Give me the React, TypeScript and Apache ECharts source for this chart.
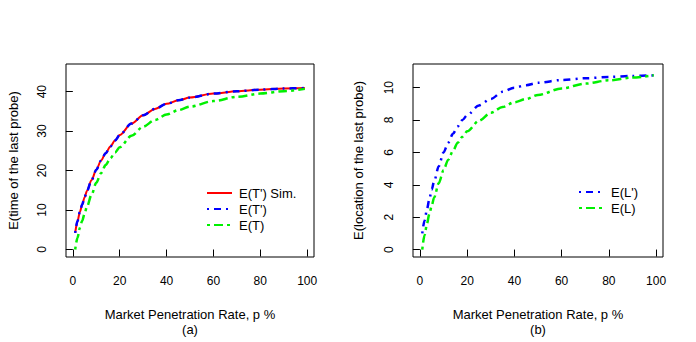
import React, { useEffect, useRef } from "react";
import * as echarts from "echarts";

// Market penetration rate p (%)
const penetration = [1, 2, 3, 4, 5, 6, 8, 10, 12, 14, 16, 18, 20, 25, 30, 35, 40, 45, 50, 60, 70, 80, 90, 99];

// Panel (a): E(time of the last probe)
const eTPrimeSim = [4.2, 7.2, 9.5, 11.4, 13.2, 14.8, 17.6, 20.2, 22.5, 24.4, 26.1, 27.6, 29.0, 31.9, 34.0, 35.6, 36.9, 37.8, 38.5, 39.5, 40.1, 40.5, 40.8, 40.9];
const eTPrime = [4.2, 7.2, 9.5, 11.4, 13.2, 14.8, 17.6, 20.2, 22.5, 24.4, 26.1, 27.6, 29.0, 31.9, 34.0, 35.6, 36.9, 37.8, 38.5, 39.5, 40.1, 40.5, 40.8, 40.9];
const eT = [0, 3.0, 5.5, 7.3, 9.1, 10.8, 13.9, 16.9, 19.3, 21.4, 23.1, 24.6, 25.9, 28.8, 31.1, 32.8, 34.2, 35.3, 36.2, 37.6, 38.7, 39.5, 40.1, 40.7];

// Panel (b): E(location of the last probe)
const eLPrime = [1.0, 1.8, 2.5, 3.1, 3.7, 4.2, 5.15, 6.0, 6.6, 7.15, 7.6, 8.0, 8.3, 8.9, 9.3, 9.75, 10.0, 10.15, 10.3, 10.47, 10.58, 10.66, 10.72, 10.76];
const eL = [0, 0.9, 1.6, 2.2, 2.7, 3.2, 4.1, 4.9, 5.55, 6.1, 6.6, 6.97, 7.3, 7.95, 8.45, 8.8, 9.1, 9.3, 9.55, 9.95, 10.25, 10.45, 10.62, 10.76];

const xTicks = [0, 20, 40, 60, 80, 100];
const yTicksA = [0, 10, 20, 30, 40];
const yTicksB = [0, 2, 4, 6, 8, 10];

const xTitle = "Market Penetration Rate, p %";
const yTitleA = "E(time of the last probe)";
const yTitleB = "E(location of the last probe)";

const FONT = "'Liberation Sans', Arial, Helvetica, sans-serif";

const zip = (xs: number[], ys: number[]) => xs.map((x, i) => [x, ys[i]]);

function xAxisCfg(gridIndex: number, sub: string) {
  return {
    type: "value",
    gridIndex,
    min: -2.92,
    max: 102.92,
    name: xTitle + "\n" + sub,
    nameLocation: "middle",
    nameGap: 50,
    nameTextStyle: { color: "#000", fontSize: 13, fontFamily: FONT, lineHeight: 15 },
    axisLine: { show: false },
    axisTick: { show: true, length: 7, customValues: xTicks, lineStyle: { color: "#000", width: 1 } },
    axisLabel: { customValues: xTicks, color: "#000", fontSize: 12, fontFamily: FONT, margin: 18 },
    splitLine: { show: false },
  };
}

function yAxisCfg(gridIndex: number, min: number, max: number, ticks: number[], name: string, gap: number) {
  return {
    type: "value",
    gridIndex,
    min,
    max,
    name,
    nameLocation: "middle",
    nameGap: gap,
    nameTextStyle: { color: "#000", fontSize: 13, fontFamily: FONT },
    axisLine: { show: false },
    axisTick: { show: true, length: 7, customValues: ticks, lineStyle: { color: "#000", width: 1 } },
    axisLabel: { customValues: ticks, color: "#000", fontSize: 12, fontFamily: FONT, margin: 18, rotate: 90 },
    splitLine: { show: false },
  };
}

const legendBase = {
  orient: "vertical",
  itemWidth: 25,
  itemHeight: 14,
  itemGap: 2,
  selectedMode: false,
  itemStyle: { opacity: 0 },
  textStyle: { color: "#000", fontSize: 13, fontFamily: FONT, lineHeight: 14, padding: [0, 0, 0, 2] },
};

export default function App() {
  const ref = useRef<HTMLDivElement>(null);
  useEffect(() => {
    if (!ref.current) return;
    const chart = echarts.init(ref.current, undefined, { renderer: "svg" });
    const lineSeries = (name: string, xi: number, ys: number[], color: string, width: number, dash: any) => ({
      name,
      type: "line",
      xAxisIndex: xi,
      yAxisIndex: xi,
      data: zip(penetration, ys),
      showSymbol: false,
      symbol: "none",
      smooth: 0.3,
      smoothMonotone: "x",
      lineStyle: { color, width, type: dash },
      itemStyle: { color },
    });
    chart.setOption({
      animation: false,
      backgroundColor: "#fff",
      grid: [
        { left: 66, top: 64, width: 248, height: 197, show: true, borderColor: "#000", borderWidth: 1, backgroundColor: "transparent" },
        { left: 413, top: 64, width: 250, height: 197, show: true, borderColor: "#000", borderWidth: 1, backgroundColor: "transparent" },
      ],
      xAxis: [xAxisCfg(0, "(a)"), xAxisCfg(1, "(b)")],
      yAxis: [
        yAxisCfg(0, -1.9, 47, yTicksA, yTitleA, 46),
        yAxisCfg(1, -0.46, 11.46, yTicksB, yTitleB, 48),
      ],
      legend: [
        { ...legendBase, data: ["E(T') Sim.", "E(T')", "E(T)"], left: 201, top: 181 },
        { ...legendBase, data: ["E(L')", "E(L)"], left: 573, top: 180 },
      ],
      series: [
        lineSeries("E(T') Sim.", 0, eTPrimeSim, "#ff0000", 2, "solid"),
        lineSeries("E(T')", 0, eTPrime, "#0000ff", 2.5, [2, 5, 7, 5]),
        lineSeries("E(T)", 0, eT, "#00f000", 2.5, [3, 4, 9, 4]),
        lineSeries("E(L')", 1, eLPrime, "#0000ff", 2.5, [2, 5, 7, 5]),
        lineSeries("E(L)", 1, eL, "#00f000", 2.5, [3, 4, 9, 4]),
      ],
    });
    return () => chart.dispose();
  }, []);
  return <div ref={ref} style={{ position: "fixed", left: 0, top: 0, width: 696, height: 342 }} />;
}
